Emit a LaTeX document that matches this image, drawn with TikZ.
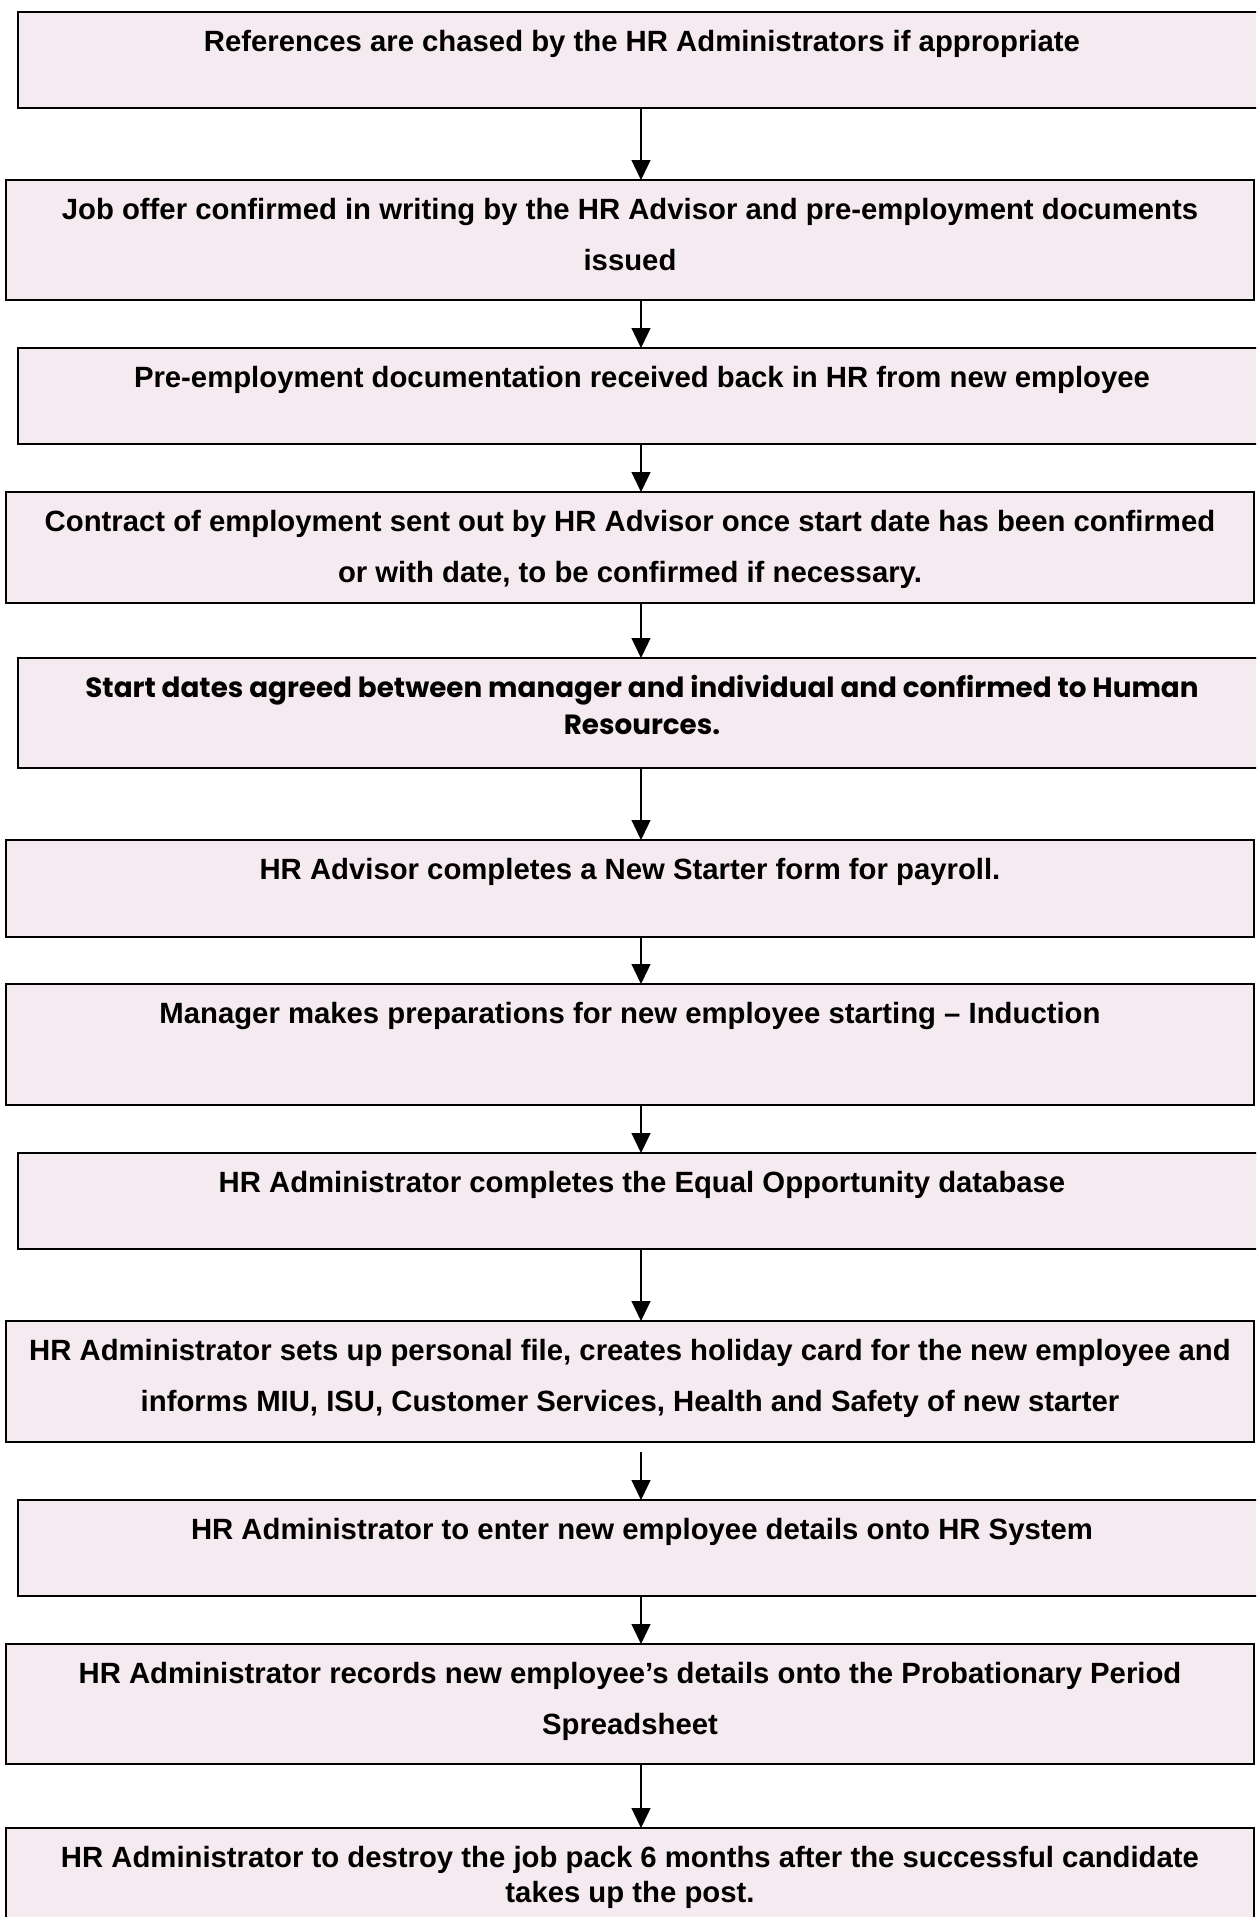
\documentclass[tikz,border=0pt]{standalone}
\usepackage{fontspec}
\setmainfont{Liberation Sans}
\newfontfamily\gothic{Poppins}
\usetikzlibrary{arrows.meta}
\definecolor{boxfill}{RGB}{245,234,240}
\begin{document}
\begin{tikzpicture}[x=1pt,y=-1pt,
  box/.style={draw=black, line width=2pt, fill=boxfill, inner sep=0pt, outer sep=0pt, anchor=north west, minimum width=1248pt},
  txt/.style={anchor=north, inner sep=0pt, align=center, font=\bfseries\fontsize{29.3}{51}\selectfont},
  arr/.style={line width=1.3pt, -{Triangle[length=20pt,width=19pt]}}]
\useasboundingbox (0,0) rectangle (1256,1917);
\clip (0,0) rectangle (1256,1917);
\fill[white] (0,0) rectangle (1256,1917);
\coordinate (ax) at (641,0);

\node[box, minimum height=96pt]  (b1)  at (18,12) {};
\node[box, minimum height=120pt] (b2)  at (6,180) {};
\node[box, minimum height=96pt]  (b3)  at (18,348) {};
\node[box, minimum height=111pt] (b4)  at (6,492) {};
\node[box, minimum height=110pt] (b5)  at (18,658) {};
\node[box, minimum height=97pt]  (b6)  at (6,840) {};
\node[box, minimum height=121pt] (b7)  at (6,984) {};
\node[box, minimum height=96pt]  (b8)  at (18,1153) {};
\node[box, minimum height=121pt] (b9)  at (6,1321) {};
\node[box, minimum height=96pt]  (b10) at (18,1500) {};
\node[box, minimum height=120pt] (b11) at (6,1644) {};
\node[box, minimum height=110pt] (b12) at (6,1828) {};

\node[txt] (t1) at ([yshift=-18pt]b1.north) {References are chased by the HR Administrators if appropriate};
\node[txt] (t2) at ([yshift=-18pt]b2.north) {Job offer confirmed in writing by the HR Advisor and pre-employment documents\\issued};
\node[txt] (t3) at ([yshift=-18pt]b3.north) {Pre-employment documentation received back in HR from new employee};
\node[txt] (t4) at ([yshift=-18pt]b4.north) {Contract of employment sent out by HR Advisor once start date has been confirmed\\or with date, to be confirmed if necessary.};
\node[txt, font=\gothic\bfseries\fontsize{27.8}{37}\selectfont] (t5) at ([yshift=-17pt]b5.north) {Start dates agreed between manager and individual and confirmed to Human\\Resources.};
\node[txt] (t6) at ([yshift=-18pt]b6.north) {HR Advisor completes a New Starter form for payroll.};
\node[txt] (t7) at ([yshift=-18pt]b7.north) {Manager makes preparations for new employee starting – Induction};
\node[txt] (t8) at ([yshift=-18pt]b8.north) {HR Administrator completes the Equal Opportunity database};
\node[txt] (t9) at ([yshift=-18pt]b9.north) {HR Administrator sets up personal file, creates holiday card for the new employee and\\informs MIU, ISU, Customer Services, Health and Safety of new starter};
\node[txt] (t10) at ([yshift=-18pt]b10.north) {HR Administrator to enter new employee details onto HR System};
\node[txt] (t11) at ([yshift=-18pt]b11.north) {HR Administrator records new employee’s details onto the Probationary Period\\Spreadsheet};
\node[txt, font=\bfseries\fontsize{29.3}{35}\selectfont] (t12) at ([yshift=-18pt]b12.north) {HR Administrator to destroy the job pack 6 months after the successful candidate\\takes up the post.};

\draw[arr] (b1.south -| ax) -- (b2.north -| ax);
\draw[arr] (b2.south -| ax) -- (b3.north -| ax);
\draw[arr] (b3.south -| ax) -- (b4.north -| ax);
\draw[arr] (b4.south -| ax) -- (b5.north -| ax);
\draw[arr] (b5.south -| ax) -- (b6.north -| ax);
\draw[arr] (b6.south -| ax) -- (b7.north -| ax);
\draw[arr] (b7.south -| ax) -- (b8.north -| ax);
\draw[arr] (b8.south -| ax) -- (b9.north -| ax);
\draw[arr, shorten <=10pt] (b9.south -| ax) -- (b10.north -| ax);
\draw[arr] (b10.south -| ax) -- (b11.north -| ax);
\draw[arr] (b11.south -| ax) -- (b12.north -| ax);
\end{tikzpicture}
\end{document}
